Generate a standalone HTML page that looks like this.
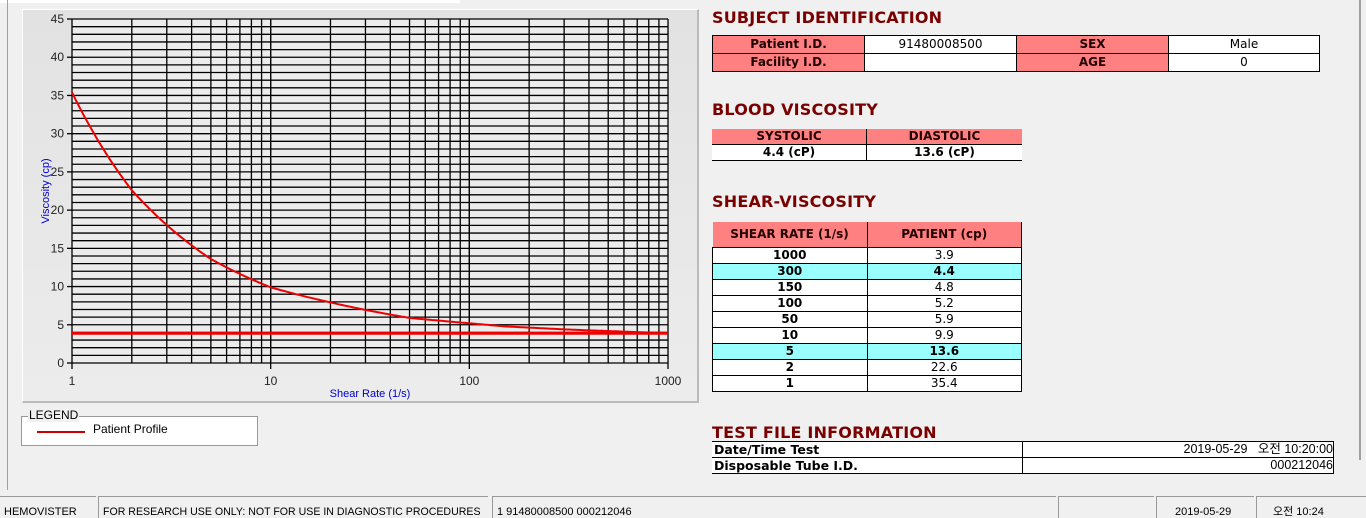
<!DOCTYPE html>
<html><head><meta charset="utf-8"><style>
body{margin:0;width:1366px;height:518px;background:#f0f0f0;position:relative;overflow:hidden;font-family:"Liberation Sans","Noto Sans CJK KR",sans-serif;}
.abs{position:absolute}
.h{position:absolute;left:712px;color:#7a0000;font-weight:bold;font-size:16px;font-family:"DejaVu Sans",sans-serif;letter-spacing:0.2px}
table{position:absolute;border-collapse:collapse;font-family:"DejaVu Sans",sans-serif;font-size:12px;table-layout:fixed}
td{border:1px solid #000;padding:0;text-align:center;height:15px;line-height:13px;white-space:nowrap;overflow:hidden}
.p{background:#ff8080;font-weight:bold;color:#200}
.w{background:#fff}
.c{background:#99ffff;font-weight:bold}
.sb{position:absolute;top:496px;height:22px;border-top:1px solid #999;border-left:1px solid #999;font-size:11px;line-height:30px;padding-left:4px;box-sizing:border-box;color:#000;white-space:nowrap;overflow:hidden}
</style></head><body>
<div class="abs" style="left:0;top:0;width:460px;height:3px;background:#fff"></div>
<div class="abs" style="left:7px;top:0;width:1px;height:490px;background:#a0a0a0"></div>
<div class="abs" style="left:1359px;top:0;width:2px;height:460px;background:#a0a0a0"></div>
<div class="abs" style="left:22px;top:9px;width:674px;height:391px;background:linear-gradient(#e2e2e2,#ececec);border:1px solid #fff;border-right:2px solid #bbb;border-bottom:2px solid #bbb"></div>
<svg class="abs" style="left:0;top:0" width="700" height="410" id="ch">
<rect x="72" y="19" width="596" height="344" fill="#ececec"/>
<g id="grid" stroke="#000" stroke-width="1.3"></g>
<g id="lab" font-family="Liberation Sans,sans-serif" font-size="12" fill="#222"></g>
<line x1="72" y1="333.2" x2="668" y2="333.2" stroke="#e00" stroke-width="3"/>
<path id="cv" fill="none" stroke="#e00" stroke-width="2"/>
<text x="370" y="397" font-size="11" fill="#00c" font-family="Liberation Sans,sans-serif" text-anchor="middle">Shear Rate (1/s)</text>
<text transform="translate(49,191) rotate(-90)" font-size="11" fill="#00c" font-family="Liberation Sans,sans-serif" text-anchor="middle">Viscosity (cp)</text>
</svg>
<div class="abs" style="left:21px;top:416px;width:235px;height:28px;border:1px solid #999;background:#fff"></div>
<div class="abs" style="left:28px;top:408px;font-size:12px;background:#f0f0f0;padding:0 1px">LEGEND</div>
<div class="abs" style="left:37px;top:431px;width:48px;height:2px;background:#c00"></div>
<div class="abs" style="left:93px;top:422px;font-size:12px">Patient Profile</div>

<div class="h" style="top:8px">SUBJECT IDENTIFICATION</div>
<table style="left:712px;top:35px;width:608px;font-size:12px">
<tr><td class="p" style="width:151px;height:17px">Patient I.D.</td><td class="w" style="width:151px">91480008500</td><td class="p" style="width:151px">SEX</td><td class="w">Male</td></tr>
<tr><td class="p" style="height:17px">Facility I.D.</td><td class="w"></td><td class="p">AGE</td><td class="w">0</td></tr></table>
<div class="h" style="top:100px">BLOOD VISCOSITY</div>
<table style="left:712px;top:129px;width:310px">
<tr><td class="p" style="width:154px;border-top:none;border-left:none">SYSTOLIC</td><td class="p" style="border-top:none;border-right:none">DIASTOLIC</td></tr>
<tr><td class="w" style="font-weight:bold;border-left:none">4.4 (cP)</td><td class="w" style="font-weight:bold;border-right:none">13.6 (cP)</td></tr></table>
<div class="h" style="top:192px">SHEAR-VISCOSITY</div>
<table style="left:712px;top:222px;width:310px">
<tr><td class="p" style="width:154px;height:25px;border-top:none;border-left:none">SHEAR RATE (1/s)</td><td class="p" style="border-top:none">PATIENT (cp)</td></tr>
<tr><td class="w" style="font-weight:bold">1000</td><td class="w">3.9</td></tr>
<tr><td class="c">300</td><td class="c">4.4</td></tr>
<tr><td class="w" style="font-weight:bold">150</td><td class="w">4.8</td></tr>
<tr><td class="w" style="font-weight:bold">100</td><td class="w">5.2</td></tr>
<tr><td class="w" style="font-weight:bold">50</td><td class="w">5.9</td></tr>
<tr><td class="w" style="font-weight:bold">10</td><td class="w">9.9</td></tr>
<tr><td class="c">5</td><td class="c">13.6</td></tr>
<tr><td class="w" style="font-weight:bold">2</td><td class="w">22.6</td></tr>
<tr><td class="w" style="font-weight:bold">1</td><td class="w">35.4</td></tr></table>
<div class="h" style="top:423px">TEST FILE INFORMATION</div>
<table style="left:712px;top:441px;width:622px;font-size:12.5px">
<tr><td class="w" style="width:308px;text-align:left;font-weight:bold;border-left:none;padding-left:2px">Date/Time Test</td><td class="w" style="text-align:right;font-family:'Liberation Sans','Noto Sans CJK KR',sans-serif">2019-05-29 &nbsp; 오전 10:20:00</td></tr>
<tr><td class="w" style="text-align:left;font-weight:bold;border-left:none;padding-left:2px">Disposable Tube I.D.</td><td class="w" style="text-align:right;font-family:'Liberation Sans',sans-serif">000212046</td></tr></table>

<div class="sb" style="left:0;width:96px;border-left:none">HEMOVISTER</div>
<div class="sb" style="left:98px;width:390px;font-size:10.6px">FOR RESEARCH USE ONLY: NOT FOR USE IN DIAGNOSTIC PROCEDURES</div>
<div class="sb" style="left:492px;width:564px">1 91480008500 000212046</div>
<div class="sb" style="left:1058px;width:96px"></div>
<div class="sb" style="left:1156px;width:98px;padding-left:18px">2019-05-29</div>
<div class="sb" style="left:1256px;width:110px;padding-left:16px;font-family:'Liberation Sans','Noto Sans CJK KR',sans-serif">오전 10:24</div>
<script>
var X=function(v){return 72+Math.log10(v)*198.67},Y=function(v){return 363-v*7.644};
var g=document.getElementById('grid'),l=document.getElementById('lab'),s='',t='';
for(var i=0;i<=45;i++){s+='<line x1="72" x2="668" y1="'+Y(i)+'" y2="'+Y(i)+'"/>';if(i%5==0){s+='<line x1="67" x2="72" y1="'+Y(i)+'" y2="'+Y(i)+'"/>';t+='<text x="64" y="'+(Y(i)+4)+'" text-anchor="end">'+i+'</text>';}}
for(var d=1;d<=100;d*=10)for(var k=1;k<=10;k++){var x=X(d*k);s+='<line y1="19" y2="363" x1="'+x+'" x2="'+x+'"/>';}
[1,10,100,1000].forEach(function(v){s+='<line y1="363" y2="369" x1="'+X(v)+'" x2="'+X(v)+'"/>';t+='<text x="'+X(v)+'" y="385" text-anchor="middle">'+v+'</text>';});
g.innerHTML=s;l.innerHTML=t;
var px=[1,2,5,10,50,100,150,300,1000],py=[35.4,22.6,13.6,9.9,5.9,5.2,4.8,4.4,3.9];
var lx=px.map(Math.log10),ly=py.map(Math.log);
function f(v){var u=Math.log10(v);for(var i=0;i<lx.length-1;i++)if(u<=lx[i+1]){var a=(u-lx[i])/(lx[i+1]-lx[i]);return Math.exp(ly[i]+a*(ly[i+1]-ly[i]));}return py[8];}
var d='';for(var j=0;j<=300;j++){var v=Math.pow(10,j/100);d+=(j?'L':'M')+X(v).toFixed(1)+' '+Y(f(v)).toFixed(1);}
document.getElementById('cv').setAttribute('d',d);
</script>
</body></html>
